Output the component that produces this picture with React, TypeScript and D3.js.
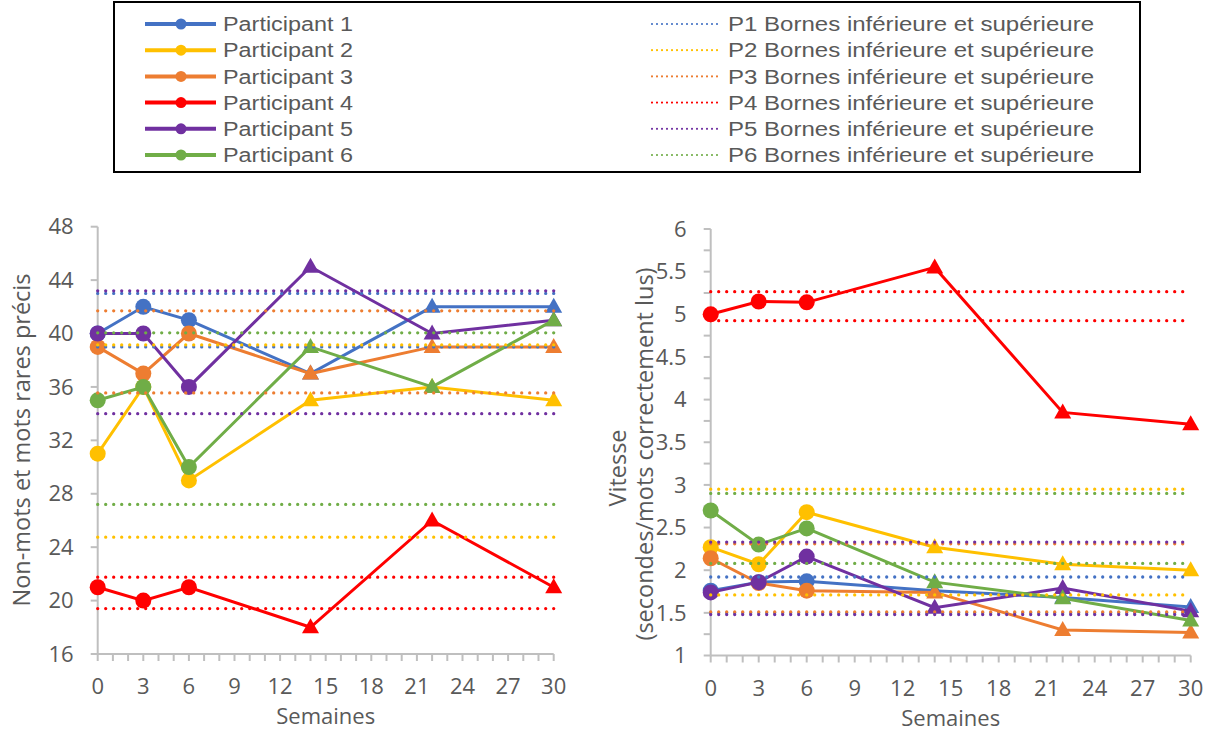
import React from 'react'
import * as d3 from 'd3'

// weeks of measurement
const weeks = [0, 3, 6, 14, 22, 30]
const participants = ['Participant 1', 'Participant 2', 'Participant 3', 'Participant 4', 'Participant 5', 'Participant 6']
const boundLabels = ['P1', 'P2', 'P3', 'P4', 'P5', 'P6'].map(p => p + ' Bornes inférieure et supérieure')
const colors = ['#4472C4', '#FFC000', '#ED7D31', '#FF0000', '#7030A0', '#70AD47']

// left chart: non-mots et mots rares précis
const accP1 = [40, 42, 41, 37, 42, 42]
const accP2 = [31, 36, 29, 35, 36, 35]
const accP3 = [39, 37, 40, 37, 39, 39]
const accP4 = [21, 20, 21, 18, 26, 21]
const accP5 = [40, 40, 36, 45, 40, 41]
const accP6 = [35, 36, 30, 39, 36, 41]
const accLow = [39.0, 24.75, 35.55, 19.4, 34.0, 27.2]
const accHigh = [43.0, 39.15, 41.7, 21.75, 43.2, 40.05]

// right chart: vitesse
const spdP1 = [1.76, 1.86, 1.87, 1.76, 1.68, 1.57]
const spdP2 = [2.27, 2.07, 2.68, 2.27, 2.07, 2.0]
const spdP3 = [2.14, 1.85, 1.76, 1.74, 1.3, 1.27]
const spdP4 = [5.0, 5.15, 5.14, 5.55, 3.85, 3.71]
const spdP5 = [1.74, 1.86, 2.16, 1.56, 1.79, 1.52]
const spdP6 = [2.7, 2.3, 2.49, 1.86, 1.67, 1.41]
const spdLow = [1.5, 1.71, 1.51, 4.925, 1.48, 2.08]
const spdHigh = [1.92, 2.95, 2.31, 5.265, 2.33, 2.9]

const xTicks = d3.range(0, 31, 3)
const accTicks = d3.range(16, 49, 4)
const spdTicks = d3.range(1, 6.01, 0.5)

const FONT = '"Open Sans", Calibri, sans-serif'
const GREY = '#595959'
const AXIS = '#BFBFBF'

function tri(x: number, y: number) {
  return `M${x},${y - 9}L${x + 8.5},${y + 6}L${x - 8.5},${y + 6}Z`
}

type ChartProps = {
  x0: number; x1: number; y0: number; y1: number
  domain: [number, number]
  ticks: number[]; minor: number[]
  series: number[][]; low: number[]; high: number[]
  fmt: (v: number) => string
  title: React.ReactNode
}

function Chart({ x0, x1, y0, y1, domain, ticks, minor, series, low, high, fmt, title }: ChartProps) {
  const x = d3.scaleLinear().domain([0, 30]).range([x0, x1])
  const y = d3.scaleLinear().domain(domain).range([y1, y0])
  const line = d3.line<number>().x((_, i) => x(weeks[i])).y(d => y(d))
  return (
    <g>
      {/* axes */}
      <line x1={x0} x2={x0} y1={y0} y2={y1} stroke={AXIS} strokeWidth={2} />
      <line x1={x0} x2={x1} y1={y1} y2={y1} stroke={AXIS} strokeWidth={2} />
      {minor.map(t => <line key={'ym' + t} x1={x0 - 7} x2={x0} y1={y(t)} y2={y(t)} stroke={AXIS} strokeWidth={2} />)}
      {ticks.map(t => (
        <text key={'yl' + t} x={x0 - 24} y={y(t)} dy="0.35em" textAnchor="end" fontSize={22} fill={GREY} fontFamily={FONT}>{fmt(t)}</text>
      ))}
      {d3.range(0, 31).map(t => <line key={'xm' + t} x1={x(t)} x2={x(t)} y1={y1} y2={y1 + 7} stroke={AXIS} strokeWidth={2} />)}
      {xTicks.map(t => (
        <text key={'xl' + t} x={x(t)} y={y1 + 40} textAnchor="middle" fontSize={22} fill={GREY} fontFamily={FONT}>{t}</text>
      ))}
      <text x={(x0 + x1) / 2} y={y1 + 70} textAnchor="middle" fontSize={22} fill={GREY} fontFamily={FONT}>Semaines</text>
      {title}
      {/* series */}
      {series.map((s, i) => (
        <g key={'s' + i}>
          <path d={line(s) || ''} fill="none" stroke={colors[i]} strokeWidth={3} />
          {s.map((v, j) => j < 3
            ? <circle key={j} cx={x(weeks[j])} cy={y(v)} r={8} fill={colors[i]} />
            : <path key={j} d={tri(x(weeks[j]), y(v))} fill={colors[i]} />)}
        </g>
      ))}
      {/* bounds */}
      {low.map((lo, i) => [lo, high[i]].map((b, k) => (
        <line key={'b' + i + k} x1={x(0)} x2={x(30)} y1={y(b)} y2={y(b)} stroke={colors[i]}
          strokeWidth={3.3} strokeDasharray="0 8" strokeLinecap="round" />
      )))}
    </g>
  )
}

export default function App() {
  const accSeries = [accP1, accP2, accP3, accP4, accP5, accP6]
  const spdSeries = [spdP1, spdP2, spdP3, spdP4, spdP5, spdP6]
  const rowY = (i: number) => 24 + i * 26.2
  return (
    <svg width={1207} height={731} style={{ position: 'absolute', left: 0, top: 0, background: '#fff' }}>
      {/* legend */}
      <rect x={114} y={2} width={1026} height={170} fill="#fff" stroke="#000" strokeWidth={2} />
      {participants.map((p, i) => (
        <g key={'lg' + i}>
          <line x1={145} x2={216} y1={rowY(i)} y2={rowY(i)} stroke={colors[i]} strokeWidth={4} />
          <circle cx={181} cy={rowY(i)} r={5.5} fill={colors[i]} />
          <text x={223} y={rowY(i)} dy="0.36em" fontSize={20} fill={GREY} fontFamily="Liberation Sans, Arial, sans-serif"
            textLength={130} lengthAdjust="spacingAndGlyphs">{p}</text>
          <line x1={652} x2={722} y1={rowY(i)} y2={rowY(i)} stroke={colors[i]} strokeWidth={2.2}
            strokeDasharray="0 5" strokeLinecap="round" />
          <text x={728} y={rowY(i)} dy="0.36em" fontSize={20} fill={GREY} fontFamily="Liberation Sans, Arial, sans-serif"
            textLength={366} lengthAdjust="spacingAndGlyphs">{boundLabels[i]}</text>
        </g>
      ))}
      <Chart x0={97.7} x1={553.7} y0={226.7} y1={654} domain={[16, 48]} ticks={accTicks} minor={accTicks}
        series={accSeries} low={accLow} high={accHigh} fmt={d => String(d)}
        title={<text transform="translate(30,440) rotate(-90)" textAnchor="middle" fontSize={23.5} fill={GREY} fontFamily={FONT}>Non-mots et mots rares précis</text>} />
      <Chart x0={710.7} x1={1190.7} y0={229} y1={655.5} domain={[1, 6]} ticks={spdTicks} minor={d3.range(1, 6.01, 0.25)}
        series={spdSeries} low={spdLow} high={spdHigh} fmt={d => String(d)}
        title={<g>
          <text transform="translate(626,468) rotate(-90)" textAnchor="middle" fontSize={23.5} fill={GREY} fontFamily={FONT}>Vitesse</text>
          <text transform="translate(653,454) rotate(-90)" textAnchor="middle" fontSize={23.5} fill={GREY} fontFamily={FONT}>(secondes/mots correctement lus)</text>
        </g>} />
    </svg>
  )
}
